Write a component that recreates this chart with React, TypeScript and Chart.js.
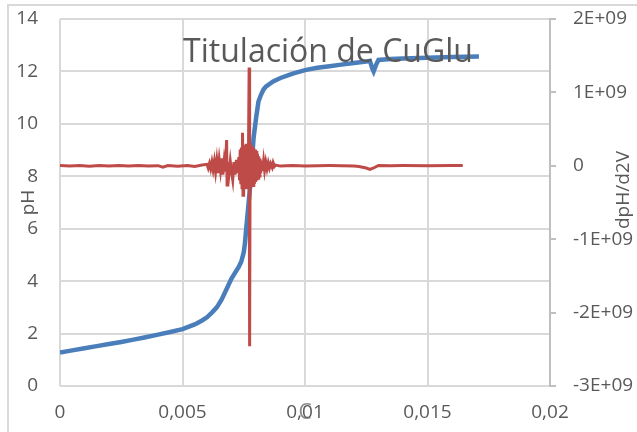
import React, { useEffect, useRef } from "react";
import { Chart, registerables } from "chart.js";

Chart.register(...registerables);

const chartTitle = "Titulación de CuGlu";
const leftAxisTitle = "pH";
const rightAxisTitle = "dpH/d2V";
const xAxisTitle = "C";

const xTickLabels = ["0", "0,005", "0,01", "0,015", "0,02"];
const leftTickLabels = ["0", "2", "4", "6", "8", "10", "12", "14"];
const rightTickLabels = ["-3E+09", "-2E+09", "-1E+09", "0", "1E+09", "2E+09"];

// Titration curve (volume, pH)
const blueX = [
  0, 0.0005, 0.001, 0.0015, 0.002, 0.0025, 0.003, 0.0035, 0.004, 0.0045, 0.005,
  0.0055, 0.0058, 0.006, 0.0062, 0.0064, 0.0066, 0.0068, 0.007, 0.0072, 0.0073,
  0.0074, 0.0075, 0.00755, 0.0076, 0.00765, 0.0077, 0.00776, 0.0078, 0.00785,
  0.0079, 0.008, 0.0081, 0.0082, 0.0083, 0.0084, 0.0087, 0.009, 0.0095, 0.01,
  0.0105, 0.011, 0.0114, 0.012, 0.0125, 0.01265, 0.01275, 0.0128, 0.0129, 0.013,
  0.0135, 0.014, 0.015, 0.016, 0.0171,
];
const bluePH = [
  1.28, 1.36, 1.44, 1.52, 1.6, 1.68, 1.77, 1.86, 1.96, 2.06, 2.17,
  2.35, 2.5, 2.62, 2.8, 3.0, 3.3, 3.7, 4.1, 4.4, 4.55,
  4.75, 5.1, 5.45, 6.0, 6.5, 7.0, 7.6, 8.2, 8.8,
  9.45, 10.2, 10.85, 11.1, 11.3, 11.42, 11.62, 11.75, 11.92, 12.05,
  12.14, 12.2, 12.25, 12.32, 12.38, 12.4, 12.1, 12.0, 12.25, 12.44,
  12.47, 12.49, 12.52, 12.55, 12.57,
];

// Second derivative (volume, dpH/d2V)
const redX = [
  0, 0.0004, 0.0008, 0.0012, 0.0016, 0.002, 0.0024, 0.0028, 0.0032, 0.0036,
  0.004, 0.0042, 0.0044, 0.0048, 0.0052, 0.0055, 0.0058,
  0.006, 0.00605, 0.0061, 0.00615, 0.0062, 0.00625, 0.0063, 0.00635, 0.0064, 0.00645,
  0.0065, 0.00655, 0.0066, 0.00665, 0.0067, 0.00675, 0.0068, 0.00682, 0.00685, 0.0069,
  0.00695, 0.007, 0.00705, 0.0071, 0.00715, 0.0072, 0.00725, 0.0073,
  0.00733, 0.007355, 0.00738, 0.007405, 0.00743, 0.00745, 0.00747, 0.007495, 0.00752, 0.007545,
  0.00757, 0.007595, 0.00762, 0.007645, 0.00767, 0.007695, 0.00772, 0.00774, 0.00776, 0.007785,
  0.00781, 0.007835, 0.00786, 0.007885, 0.00791, 0.007935, 0.00796, 0.007985, 0.00801, 0.008035,
  0.00806, 0.008085, 0.00811, 0.008135, 0.00816, 0.00819,
  0.00823, 0.00827, 0.00831, 0.00835, 0.0084, 0.00845, 0.0085, 0.00855, 0.0086, 0.00866,
  0.0087, 0.00875, 0.0088, 0.009, 0.0095, 0.01, 0.0105, 0.011, 0.0115, 0.012,
  0.0122, 0.0125, 0.01265, 0.0128, 0.013, 0.0135, 0.014, 0.015, 0.016, 0.01644,
];
const redD = [
  0.005e9, -0.004e9, 0.004e9, -0.005e9, 0.003e9, -0.004e9, 0.004e9, -0.003e9, 0.003e9, -0.004e9,
  0.002e9, -0.02e9, 0.003e9, -0.005e9, 0.005e9, -0.01e9, 0.01e9,
  0.02e9, -0.03e9, 0.03e9, -0.04e9, 0.05e9, -0.05e9, 0.06e9, -0.08e9, 0.07e9, -0.1e9,
  0.08e9, -0.06e9, 0.1e9, -0.12e9, 0.06e9, -0.08e9, 0.35e9, -0.26e9, 0.05e9, -0.1e9,
  0.06e9, -0.08e9, -0.19e9, 0.05e9, -0.12e9, 0.08e9, -0.1e9, 0.12e9,
  -0.2e9, 0.22e9, -0.25e9, 0.25e9, -0.3e9, 0.45e9, -0.4e9, 0.28e9, -0.3e9, 0.26e9,
  -0.28e9, 0.3e9, -0.32e9, 0.28e9, -0.3e9, 0.28e9, 1.34e9, -2.46e9, 0.3e9, -0.3e9,
  0.27e9, -0.29e9, 0.26e9, -0.27e9, 0.24e9, -0.25e9, 0.22e9, -0.22e9, 0.2e9, -0.2e9,
  0.16e9, -0.17e9, 0.13e9, -0.14e9, 0.1e9, -0.1e9,
  0.07e9, -0.07e9, 0.06e9, -0.06e9, 0.05e9, -0.04e9, 0.04e9, -0.03e9, 0.03e9, -0.02e9,
  0.04e9, -0.01e9, 0.01e9, -0.004e9, 0.003e9, -0.003e9, 0.002e9, 0.003e9, 0.001e9, -0.004e9,
  -0.01e9, -0.03e9, -0.05e9, -0.03e9, 0.004e9, 0.002e9, 0.004e9, 0.002e9, 0.005e9, 0.005e9,
];

const FONT = "'Open Sans', sans-serif";
const TEXT = "#595959";
const GRID = "#d9d9d9";

export default function App() {
  const ref = useRef<HTMLCanvasElement | null>(null);

  useEffect(() => {
    if (!ref.current) return;
    const overlay = {
      id: "overlay",
      beforeDraw(chart: any) {
        const ctx = chart.ctx;
        ctx.save();
        ctx.fillStyle = "#ffffff";
        ctx.fillRect(0, 0, chart.width, chart.height);
        ctx.strokeStyle = GRID;
        ctx.lineWidth = 2;
        ctx.beginPath();
        ctx.moveTo(8, chart.height);
        ctx.lineTo(8, 5);
        ctx.lineTo(chart.width, 5);
        ctx.stroke();
        ctx.restore();
      },
      afterDraw(chart: any) {
        const ctx = chart.ctx;
        ctx.save();
        ctx.font = `32px ${FONT}`;
        ctx.fillStyle = TEXT;
        ctx.textAlign = "center";
        ctx.textBaseline = "alphabetic";
        ctx.fillText(chartTitle, 328, 62);
        ctx.restore();

        ctx.save();
        ctx.font = `19px ${FONT}`;
        ctx.fillStyle = TEXT;
        ctx.textAlign = "center";
        ctx.textBaseline = "middle";
        ctx.translate(chart.width - 13, 190);
        ctx.rotate(-Math.PI / 2);
        ctx.fillText(rightAxisTitle, 0, 0);
        ctx.restore();
      },
    };

    const chart = new Chart(ref.current, {
      type: "line",
      data: {
        datasets: [
          {
            label: "dpH/d2V",
            data: redX.map((x, i) => ({ x, y: redD[i] })),
            borderColor: "#be4b48",
            backgroundColor: "#be4b48",
            borderWidth: 3,
            pointRadius: 0,
            tension: 0,
            yAxisID: "y1",
            order: 0,
          },
          {
            label: "pH",
            data: blueX.map((x, i) => ({ x, y: bluePH[i] })),
            borderColor: "#4a7ebb",
            backgroundColor: "#4a7ebb",
            borderWidth: 4.5,
            pointRadius: 0,
            tension: 0,
            yAxisID: "y",
            order: 1,
          },
        ],
      },
      options: {
        animation: false,
        responsive: false,
        layout: { autoPadding: false, padding: { top: 19, left: 0, right: 0, bottom: 0 } },
        plugins: {
          legend: { display: false },
          tooltip: { enabled: false },
          title: { display: false },
        },
        scales: {
          x: {
            type: "linear",
            min: 0,
            max: 0.02,
            ticks: {
              stepSize: 0.005,
              color: TEXT,
              font: { family: FONT, size: 19 },
              padding: 15,
              callback: (_v: any, i: number) => xTickLabels[i],
            },
            grid: { color: GRID, lineWidth: 2, drawTicks: false },
            border: { display: false },
            title: {
              display: true,
              text: xAxisTitle,
              color: "#8c8c8c",
              font: { family: FONT, size: 21 },
              padding: { top: 0, bottom: 6 },
            },
            afterFit: (s: any) => {
              s.height = 46;
              s.paddingLeft = 0;
              s.paddingRight = 0;
            },
          },
          y: {
            position: "left",
            min: 0,
            max: 14,
            ticks: {
              stepSize: 2,
              color: TEXT,
              font: { family: FONT, size: 19 },
              padding: 22,
              callback: (_v: any, i: number) => leftTickLabels[i],
            },
            grid: { color: GRID, lineWidth: 2, drawTicks: false },
            border: { display: false },
            title: {
              display: true,
              text: leftAxisTitle,
              color: TEXT,
              font: { family: FONT, size: 19 },
              padding: { top: 17, bottom: 0 },
            },
            afterFit: (s: any) => {
              s.width = 60;
              s.paddingTop = 0;
              s.paddingBottom = 0;
            },
          },
          y1: {
            position: "right",
            min: -3e9,
            max: 2e9,
            ticks: {
              stepSize: 1e9,
              color: TEXT,
              font: { family: FONT, size: 19 },
              padding: 17,
              callback: (_v: any, i: number) => rightTickLabels[i],
            },
            grid: {
              drawOnChartArea: false,
              drawTicks: true,
              tickLength: 6,
              color: "#bfbfbf",
              lineWidth: 2,
            },
            border: { display: true, color: "#bfbfbf", width: 2 },
            title: { display: false },
            afterFit: (s: any) => {
              s.width = 87;
              s.paddingTop = 0;
              s.paddingBottom = 0;
            },
          },
        },
      },
      plugins: [overlay],
    });
    return () => chart.destroy();
  }, []);

  return (
    <div style={{ position: "absolute", left: 0, top: 0, width: 637, height: 432 }}>
      <canvas ref={ref} width={637} height={432} style={{ display: "block" }} />
    </div>
  );
}
